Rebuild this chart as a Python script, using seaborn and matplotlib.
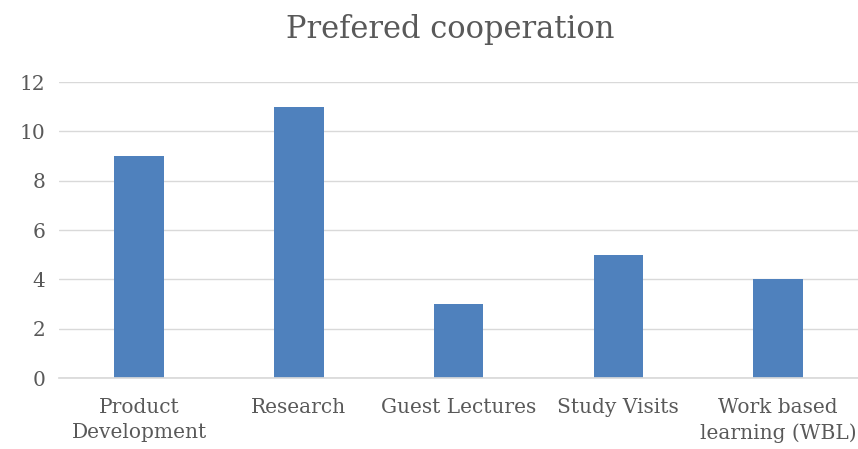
import matplotlib
matplotlib.use("Agg")
import matplotlib.pyplot as plt
import seaborn as sns
import pandas as pd

categories = ["Product\nDevelopment", "Research", "Guest Lectures", "Study Visits", "Work based\nlearning (WBL)"]
values = [9, 11, 3, 5, 4]
title = "Prefered cooperation"

sns.set_theme(style="white")
plt.rcParams['font.family'] = ['DejaVu Serif']

df = pd.DataFrame({"cat": categories, "val": values})
fig = plt.figure(figsize=(8.58, 4.49), dpi=100)
ax = fig.add_axes([0.069, 0.158, 0.931, 0.659])
sns.barplot(data=df, x="cat", y="val", color="#4F81BD", width=0.31, saturation=1,
            linewidth=0, edgecolor="none", ax=ax)
ax.set_ylim(0, 12)
ax.set_yticks(range(0, 13, 2))
ax.yaxis.grid(True, color="#D9D9D9", linewidth=1)
ax.set_axisbelow(True)
for s in ["top", "right", "left"]:
    ax.spines[s].set_visible(False)
ax.spines["bottom"].set_color("#D9D9D9")
ax.set_xlabel("")
ax.set_ylabel("")
ax.tick_params(axis="both", length=0, labelsize=14.5, colors="#595959", pad=10)
ax.tick_params(axis="x", pad=14)
for lbl in ax.get_xticklabels():
    lbl.set_linespacing(1.45)
fig.text(0.525, 0.935, title, ha="center", va="center", fontsize=22, color="#595959")
fig.savefig("out.png", dpi=100)
